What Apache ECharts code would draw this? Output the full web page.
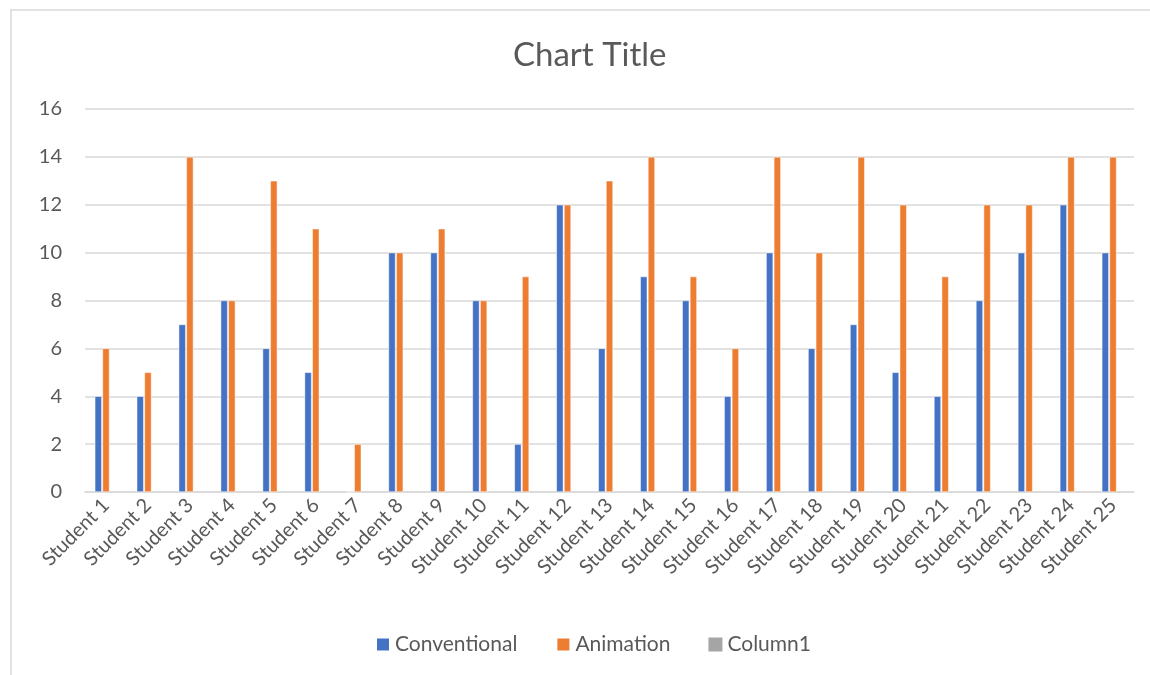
<!DOCTYPE html>
<html>
<head>
<meta charset="utf-8">
<title>Chart Title</title>
<script src="https://cdn.jsdelivr.net/npm/echarts@6/dist/echarts.min.js"></script>
<style>
  html, body { margin: 0; padding: 0; background: #fff; }
  #main { width: 1150px; height: 675px; }
</style>
</head>
<body>
<div id="main"></div>
<script>
// 数据
var students = ['Student 1', 'Student 2', 'Student 3', 'Student 4', 'Student 5',
  'Student 6', 'Student 7', 'Student 8', 'Student 9', 'Student 10',
  'Student 11', 'Student 12', 'Student 13', 'Student 14', 'Student 15',
  'Student 16', 'Student 17', 'Student 18', 'Student 19', 'Student 20',
  'Student 21', 'Student 22', 'Student 23', 'Student 24', 'Student 25'];
var conventional = [4, 4, 7, 8, 6, 5, 0, 10, 10, 8, 2, 12, 6, 9, 8, 4, 10, 6, 7, 5, 4, 8, 10, 12, 10];
var animation = [6, 5, 14, 8, 13, 11, 2, 10, 11, 8, 9, 12, 13, 14, 9, 6, 14, 10, 14, 12, 9, 12, 12, 14, 14];
var column1 = students.map(function() { return null; });

(function() {
  var myChart = echarts.init(document.getElementById('main'));
  var font = 'Lato, "Open Sans", sans-serif';
  var option = {
    animation: false,
    textStyle: { fontFamily: font, color: '#595959' },
    title: {
      text: 'Chart Title',
      left: 508,
      top: 34,
      textStyle: { fontSize: 33, fontWeight: 'normal', color: '#595959', fontFamily: font }
    },
    // 外框
    graphic: [{
      type: 'rect',
      shape: { x: 11, y: 10, width: 1160, height: 700 },
      style: { fill: 'none', stroke: '#d9d9d9', lineWidth: 1.5 },
      silent: true
    }],
    legend: {
      top: 629,
      left: 370,
      itemWidth: 14,
      itemHeight: 14,
      itemGap: 38,
      icon: 'rect',
      textStyle: { fontSize: 21, color: '#595959', fontFamily: font },
      data: ['Conventional', 'Animation', 'Column1']
    },
    grid: {
      left: 85,
      right: 16,
      top: 109,
      bottom: 183
    },
    xAxis: {
      type: 'category',
      data: students,
      axisTick: { show: false },
      axisLine: { lineStyle: { color: '#d9d9d9', width: 1.5 } },
      axisLabel: {
        interval: 0,
        rotate: 45,
        fontSize: 20,
        color: '#595959',
        fontFamily: font,
        margin: 10
      }
    },
    yAxis: {
      type: 'value',
      min: 0,
      max: 16,
      interval: 2,
      axisLine: { show: false },
      axisTick: { show: false },
      axisLabel: { fontSize: 20, color: '#595959', fontFamily: font, margin: 23 },
      splitLine: { lineStyle: { color: '#d9d9d9', width: 1.5 } }
    },
    series: [
      {
        name: 'Conventional',
        type: 'bar',
        data: conventional,
        barWidth: 7,
        barGap: '10%',
        itemStyle: { color: '#4472c4', borderColor: '#fff', borderWidth: 0.5 }
      },
      {
        name: 'Animation',
        type: 'bar',
        data: animation,
        barWidth: 7,
        barGap: '10%',
        itemStyle: { color: '#ed7d31', borderColor: '#fff', borderWidth: 0.5 }
      },
      {
        name: 'Column1',
        type: 'bar',
        data: column1,
        barWidth: 7,
        barGap: '10%',
        itemStyle: { color: '#a5a5a5' }
      }
    ]
  };
  myChart.setOption(option);
  window.addEventListener('resize', function() {
    myChart.resize();
  });
})();
</script>
</body>
</html>
